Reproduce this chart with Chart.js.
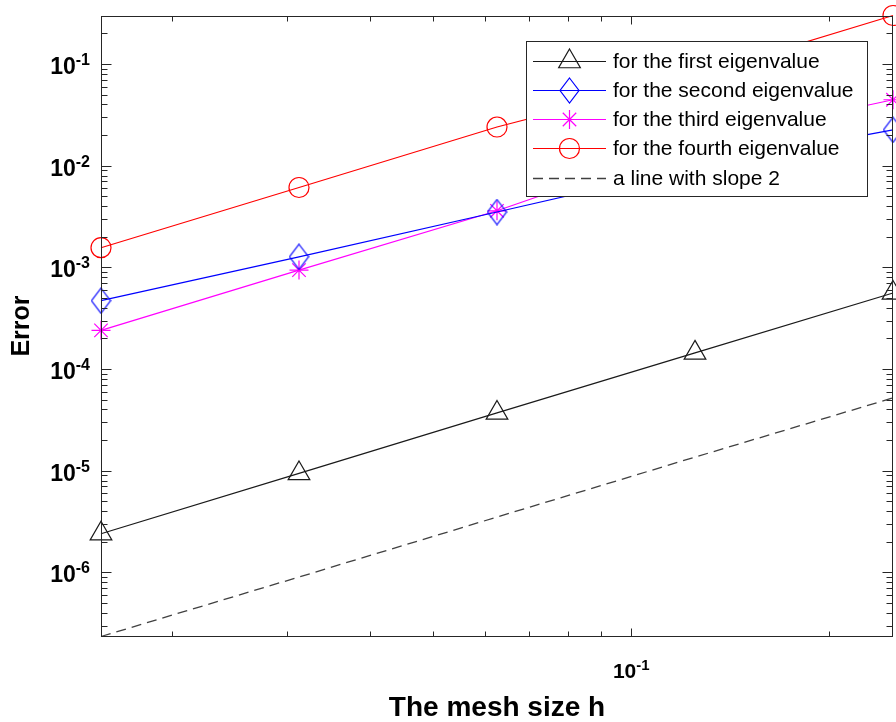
<!DOCTYPE html>
<html><head><meta charset="utf-8">
<script src="https://cdn.jsdelivr.net/npm/chart.js@4.4.1/dist/chart.umd.min.js"></script>
<style>html,body{margin:0;padding:0;background:#fff}#wrap{width:896px;height:722px}</style>
</head><body><div id="wrap"><canvas id="c" width="896" height="722"></canvas></div>
<script>
// ---- data ----
const meshSizes = [1/64, 1/32, 1/16, 1/8, 1/4];
const errFirst  = [2.4e-6, 9.4e-6, 3.7e-5, 1.44e-4, 5.6e-4];
const errSecond = [4.7e-4, 1.27e-3, 3.5e-3, 9.8e-3, 2.25e-2];
const errThird  = [2.4e-4, 9.4e-4, 3.6e-3, 1.7e-2, 4.45e-2];
const errFourth = [1.56e-3, 6.1e-3, 2.4e-2, 7.7e-2, 0.30];
const slopeTwo  = [2.34e-7, 9.0e-7, 3.5e-6, 1.36e-5, 5.2e-5];
const seriesLabels = ['for the first eigenvalue','for the second eigenvalue','for the third eigenvalue','for the fourth eigenvalue','a line with slope 2'];
const yTickExponents = [-6, -5, -4, -3, -2, -1];
const xTickExponents = [-1];
const xTitle = 'The mesh size h';
const yTitle = 'Error';

const FONT = '"Liberation Sans", Arial, Helvetica, sans-serif';

function makeDiamond(color, w, h) {
  const c = document.createElement('canvas');
  c.width = w + 2; c.height = h + 2;
  const g = c.getContext('2d');
  g.strokeStyle = color; g.lineWidth = 1.2;
  g.beginPath();
  g.moveTo(c.width / 2, 1); g.lineTo(c.width - 1, c.height / 2);
  g.lineTo(c.width / 2, c.height - 1); g.lineTo(1, c.height / 2);
  g.closePath(); g.stroke();
  return c;
}
const diamondImg = makeDiamond('#0000ff', 19, 25);

function pts(arr) { return meshSizes.map((h, i) => ({x: h, y: arr[i]})); }

const datasets = [
  {label: seriesLabels[0], data: pts(errFirst), borderColor: '#1a1a1a', pointBorderColor: '#1a1a1a',
   pointStyle: 'triangle', pointRadius: 12.5, mk: 'triangle'},
  {label: seriesLabels[1], data: pts(errSecond), borderColor: '#0000ff', pointBorderColor: '#0000ff',
   pointStyle: diamondImg, pointRadius: 12, mk: 'diamond'},
  {label: seriesLabels[2], data: pts(errThird), borderColor: '#ff00ff', pointBorderColor: '#ff00ff',
   pointStyle: 'star', pointRadius: 9.5, mk: 'star'},
  {label: seriesLabels[3], data: pts(errFourth), borderColor: '#ff0000', pointBorderColor: '#ff0000',
   pointStyle: 'circle', pointRadius: 10, mk: 'circle'},
  {label: seriesLabels[4], data: pts(slopeTwo), borderColor: '#404040', borderDash: [10, 6], borderWidth: 1.3,
   pointRadius: 0, mk: 'none'}
].map(d => Object.assign({borderWidth: 1.2, pointBorderWidth: 1.2, pointBackgroundColor: 'rgba(0,0,0,0)',
   fill: false, tension: 0, clip: false, pointHoverRadius: d.pointRadius}, d));

function drawMarker(ctx, mk, color, x, y) {
  ctx.save();
  ctx.strokeStyle = color; ctx.lineWidth = 1.2; ctx.setLineDash([]);
  ctx.beginPath();
  if (mk === 'triangle') {
    const r = 12.5;
    for (let k = 0; k < 3; k++) {
      const a = k * 2 * Math.PI / 3;
      const px = x + Math.sin(a) * r, py = y - Math.cos(a) * r;
      k ? ctx.lineTo(px, py) : ctx.moveTo(px, py);
    }
    ctx.closePath(); ctx.stroke();
  } else if (mk === 'diamond') {
    ctx.drawImage(diamondImg, x - diamondImg.width / 2, y - diamondImg.height / 2);
  } else if (mk === 'star') {
    const r = 9.5, d = r * Math.SQRT1_2;
    ctx.moveTo(x - r, y); ctx.lineTo(x + r, y);
    ctx.moveTo(x, y - r); ctx.lineTo(x, y + r);
    ctx.moveTo(x - d, y - d); ctx.lineTo(x + d, y + d);
    ctx.moveTo(x - d, y + d); ctx.lineTo(x + d, y - d);
    ctx.stroke();
  } else if (mk === 'circle') {
    ctx.arc(x, y, 10, 0, Math.PI * 2); ctx.stroke();
  }
  ctx.restore();
}

function powLayout(ctx, exp, x, align, bs, es) {
  ctx.font = 'bold ' + bs + 'px ' + FONT;
  const wb = ctx.measureText('10').width;
  ctx.font = 'bold ' + es + 'px ' + FONT;
  const str = String(exp);
  const we = ctx.measureText(str).width;
  const total = wb + we;
  const x0 = align === 'right' ? x - total : x - total / 2;
  return {x0, wb, str};
}

const axesPlugin = {
  id: 'matlabAxes',
  afterDraw(chart) {
    const {ctx, chartArea: a, scales: {x, y}} = chart;
    const L = Math.round(a.left) + 0.5, R = Math.round(a.right) - 0.5;
    const T = Math.round(a.top) + 0.5, B = Math.round(a.bottom) - 0.5;
    ctx.save();
    ctx.strokeStyle = '#262626'; ctx.lineWidth = 1; ctx.setLineDash([]);
    ctx.strokeRect(L, T, R - L, B - T);
    ctx.beginPath();
    for (let k = -7; k <= 0; k++) {
      for (let m = 1; m <= 9; m++) {
        const v = m * Math.pow(10, k);
        if (v < y.min || v > y.max) continue;
        const py = Math.round(y.getPixelForValue(v)) + 0.5;
        const len = m === 1 ? 10 : 6;
        ctx.moveTo(L, py); ctx.lineTo(L + len, py);
        ctx.moveTo(R, py); ctx.lineTo(R - len, py);
      }
    }
    for (let k = -2; k <= 0; k++) {
      for (let m = 1; m <= 9; m++) {
        const v = m * Math.pow(10, k);
        if (v < x.min || v > x.max) continue;
        const px = Math.round(x.getPixelForValue(v)) + 0.5;
        const len = m === 1 ? 8 : 5;
        ctx.moveTo(px, B); ctx.lineTo(px, B - len);
        ctx.moveTo(px, T); ctx.lineTo(px, T + len);
      }
    }
    ctx.stroke();

    ctx.fillStyle = '#000';
    ctx.textBaseline = 'alphabetic';
    ctx.textAlign = 'left';
    yTickExponents.forEach(e => {
      const py = y.getPixelForValue(Math.pow(10, e));
      const t = powLayout(ctx, e, 90, 'right', 23, 16);
      ctx.font = 'bold 23px ' + FONT;
      ctx.fillText('10', t.x0, py + 10);
      ctx.font = 'bold 16px ' + FONT;
      ctx.fillText(t.str, t.x0 + t.wb, py + 1);
    });
    xTickExponents.forEach(e => {
      const px = x.getPixelForValue(Math.pow(10, e));
      const t = powLayout(ctx, e, px, 'center', 21, 15);
      ctx.font = 'bold 21px ' + FONT;
      ctx.fillText('10', t.x0, 678);
      ctx.font = 'bold 15px ' + FONT;
      ctx.fillText(t.str, t.x0 + t.wb, 670);
    });

    // legend
    const bx = 526.5, by = 41.5, bw = 341, bh = 155;
    ctx.fillStyle = '#fff';
    ctx.fillRect(bx, by, bw, bh);
    ctx.strokeStyle = '#262626'; ctx.lineWidth = 1;
    ctx.strokeRect(bx, by, bw, bh);
    const rowsY = [61, 90, 119, 148, 178];
    chart.data.datasets.forEach((d, i) => {
      const yy = rowsY[i];
      ctx.save();
      ctx.strokeStyle = d.borderColor; ctx.lineWidth = d.borderWidth;
      ctx.setLineDash(d.borderDash || []);
      ctx.beginPath(); ctx.moveTo(533, yy + 0.5); ctx.lineTo(606, yy + 0.5); ctx.stroke();
      ctx.restore();
      drawMarker(ctx, d.mk, d.pointBorderColor, 569.5, yy + 0.5);
      ctx.fillStyle = '#000';
      ctx.font = '21px ' + FONT;
      ctx.textBaseline = 'middle';
      ctx.fillText(d.label, 613, yy + 1);
    });
    ctx.restore();
  }
};

new Chart(document.getElementById('c'), {
  type: 'line',
  data: {datasets},
  options: {
    responsive: false,
    animation: false,
    devicePixelRatio: 1,
    events: [],
    layout: {autoPadding: false, padding: {top: 15.5, right: 3, left: 0, bottom: 0}},
    plugins: {legend: {display: false}, tooltip: {enabled: false}},
    scales: {
      x: {
        type: 'logarithmic', position: 'bottom', min: 1/64, max: 0.25, bounds: 'data',
        grid: {display: false, drawTicks: false}, border: {display: false},
        ticks: {display: false},
        title: {display: true, text: xTitle, color: '#000', padding: {top: 0, bottom: 0},
                font: {family: FONT, size: 28, weight: 'bold', lineHeight: 0.96}},
        afterFit(s) { s.height = 85.5; }
      },
      y: {
        type: 'logarithmic', position: 'left', min: 2.34e-7, max: 0.30, bounds: 'data',
        grid: {display: false, drawTicks: false}, border: {display: false},
        ticks: {display: false},
        title: {display: true, text: yTitle, color: '#000', padding: {top: 10, bottom: 0},
                font: {family: FONT, size: 25, weight: 'bold', lineHeight: 1.0}},
        afterFit(s) { s.width = 101; }
      }
    }
  },
  plugins: [axesPlugin]
});
</script>
</body></html>
